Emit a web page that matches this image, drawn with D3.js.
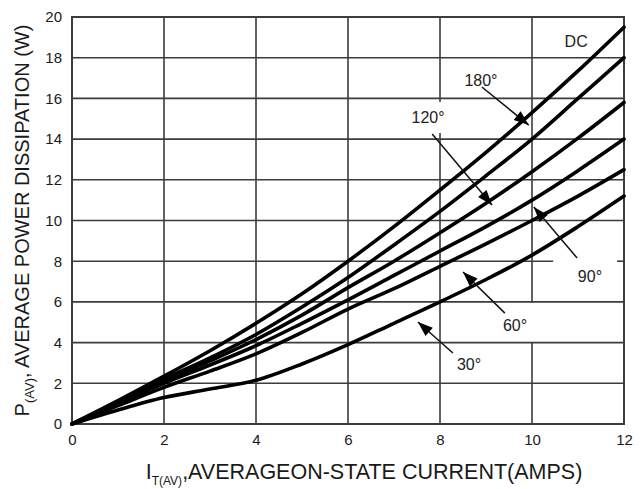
<!DOCTYPE html>
<html>
<head>
<meta charset="utf-8">
<script src="https://cdn.jsdelivr.net/npm/d3@7/dist/d3.min.js"></script>
<style>
  html, body { margin: 0; padding: 0; background: #fff; }
  svg { display: block; }
  text { font-family: "Liberation Sans", Arial, sans-serif; }
</style>
</head>
<body>
<svg id="chart" width="640" height="489"></svg>
<script>
// Current steps (amps) at which each curve is sampled
const current = [0, 1, 2, 3, 4, 5, 6, 7, 8, 9, 10, 11, 12];

// Average power dissipation (W) per conduction angle
const powerDC   = [0, 1.15, 2.35, 3.6, 4.95, 6.4, 8.0, 9.7, 11.5, 13.35, 15.3, 17.35, 19.5];
const power180  = [0, 1.1, 2.2, 3.25, 4.4, 5.75, 7.2, 8.8, 10.45, 12.2, 14.0, 16.0, 18.0];
const power120  = [0, 1.05, 2.1, 3.1, 4.15, 5.35, 6.7, 8.0, 9.4, 10.85, 12.4, 14.05, 15.8];
const power90   = [0, 1.0, 2.0, 2.9, 3.85, 4.95, 6.1, 7.3, 8.5, 9.7, 11.0, 12.45, 14.0];
const power60   = [0, 0.9, 1.8, 2.6, 3.45, 4.5, 5.65, 6.65, 7.75, 8.85, 10.0, 11.2, 12.5];
const power30   = [0, 0.69, 1.3, 1.72, 2.15, 2.95, 3.9, 4.95, 6.0, 7.1, 8.3, 9.7, 11.2];

const seriesNames = ["DC", "180°", "120°", "90°", "60°", "30°"];
const seriesValues = [powerDC, power180, power120, power90, power60, power30];

// Axis tick values
const xTicks = [0, 2, 4, 6, 8, 10, 12];
const yTicks = [0, 2, 4, 6, 8, 10, 12, 14, 16, 18, 20];

// Curve labels and their pointer arrows, in data units
const labels = [
  { text: "DC",   x: 10.96, y: 18.82, from: null, to: null },
  { text: "180°", x: 8.89,  y: 16.86, from: [8.91, 16.56], to: [9.93, 14.69] },
  { text: "120°", x: 7.74,  y: 15.04, from: [7.83, 14.25], to: [9.13, 10.76] },
  { text: "90°",  x: 11.26, y: 7.27,  from: [10.98, 8.16], to: [10.04, 10.66] },
  { text: "60°",  x: 9.63,  y: 4.86,  from: [9.41, 5.45],  to: [8.5, 7.47] },
  { text: "30°",  x: 8.63,  y: 2.90,  from: [8.28, 3.49],  to: [7.52, 5.01] }
];

// Breaks in the grid where labels sit
const vGridGaps = { 8: [[14.3, 15.82]], 10: [[3.98, 5.95]] };
const hGridGaps = { 8: [[10.46, 11.85]] };

const svg = d3.select("#chart");
const margin = { left: 72, right: 16, top: 17, bottom: 65 };
const W = 640, H = 489;

const x = d3.scaleLinear().domain([0, 12]).range([margin.left, W - margin.right]);
const y = d3.scaleLinear().domain([0, 20]).range([H - margin.bottom, margin.top]);

const gridColor = "#3c3c3c";
const grid = svg.append("g");

function segments(lo, hi, gaps) {
  const out = [];
  let start = lo;
  (gaps || []).forEach(([a, b]) => { out.push([start, a]); start = b; });
  out.push([start, hi]);
  return out;
}

xTicks.slice(1, -1).forEach(v => {
  segments(0, 20, vGridGaps[v]).forEach(([a, b]) => {
    grid.append("line")
      .attr("x1", x(v)).attr("x2", x(v))
      .attr("y1", y(a)).attr("y2", y(b))
      .attr("stroke", gridColor).attr("stroke-width", 1.6);
  });
});
yTicks.slice(1, -1).forEach(v => {
  segments(0, 12, hGridGaps[v]).forEach(([a, b]) => {
    grid.append("line")
      .attr("x1", x(a)).attr("x2", x(b))
      .attr("y1", y(v)).attr("y2", y(v))
      .attr("stroke", gridColor).attr("stroke-width", 1.6);
  });
});

// Plot frame
svg.append("rect")
  .attr("x", x(0)).attr("y", y(20))
  .attr("width", x(12) - x(0)).attr("height", y(0) - y(20))
  .attr("fill", "none").attr("stroke", gridColor).attr("stroke-width", 2);

// Axes (labels only, no tick marks)
const xAxis = d3.axisBottom(x).tickValues(xTicks).tickSize(0).tickPadding(10).tickFormat(d3.format("d"));
const yAxis = d3.axisLeft(y).tickValues(yTicks).tickSize(0).tickPadding(10).tickFormat(d3.format("d"));

const gx = svg.append("g").attr("transform", `translate(0,${y(0)})`).call(xAxis);
const gy = svg.append("g").attr("transform", `translate(${x(0)},0)`).call(yAxis);
[gx, gy].forEach(g => {
  g.select(".domain").remove();
  g.selectAll("text")
    .attr("font-family", "Liberation Sans, Arial, sans-serif")
    .attr("font-size", 15).attr("fill", "#1a1a1a");
});

// Power curves
const line = d3.line()
  .x((d, i) => x(current[i]))
  .y(d => y(d))
  .curve(d3.curveCatmullRom.alpha(0.5));

svg.append("g").selectAll("path")
  .data(seriesValues)
  .join("path")
  .attr("d", d => line(d))
  .attr("fill", "none")
  .attr("stroke", "#000")
  .attr("stroke-width", 3.6)
  .attr("stroke-linecap", "round");

// Labels with pointer arrows
const ann = svg.append("g");
labels.forEach(l => {
  ann.append("text")
    .attr("x", x(l.x)).attr("y", y(l.y))
    .attr("text-anchor", "middle").attr("dominant-baseline", "central")
    .attr("font-size", 16).attr("fill", "#222")
    .text(l.text);
  if (l.from) {
    const x1 = x(l.from[0]), y1 = y(l.from[1]);
    const x2 = x(l.to[0]), y2 = y(l.to[1]);
    ann.append("line")
      .attr("x1", x1).attr("y1", y1).attr("x2", x2).attr("y2", y2)
      .attr("stroke", "#111").attr("stroke-width", 1.5);
    const ang = Math.atan2(y2 - y1, x2 - x1);
    const len = 15, half = 5.5;
    const bx = x2 - len * Math.cos(ang), by = y2 - len * Math.sin(ang);
    const px = -Math.sin(ang), py = Math.cos(ang);
    ann.append("path")
      .attr("d", `M${x2},${y2}L${bx + half * px},${by + half * py}L${bx - half * px},${by - half * py}Z`)
      .attr("fill", "#000");
  }
});

// Axis titles
const xt = svg.append("text")
  .attr("x", 364).attr("y", 479)
  .attr("text-anchor", "middle").attr("font-size", 21.5).attr("fill", "#1a1a1a");
xt.append("tspan").text("I");
xt.append("tspan").attr("font-size", 12).attr("dy", 6).text("T(AV)");
xt.append("tspan").attr("dy", -6).text(",AVERAGEON-STATE CURRENT(AMPS)");

const yt = svg.append("text")
  .attr("transform", `translate(29,${(y(0) + y(20)) / 2}) rotate(-90)`)
  .attr("text-anchor", "middle").attr("font-size", 20).attr("fill", "#1a1a1a");
yt.append("tspan").text("P");
yt.append("tspan").attr("font-size", 13).attr("dy", 5).text("(AV)");
yt.append("tspan").attr("dy", -5).text(", AVERAGE POWER DISSIPATION (W)");
</script>
</body>
</html>
